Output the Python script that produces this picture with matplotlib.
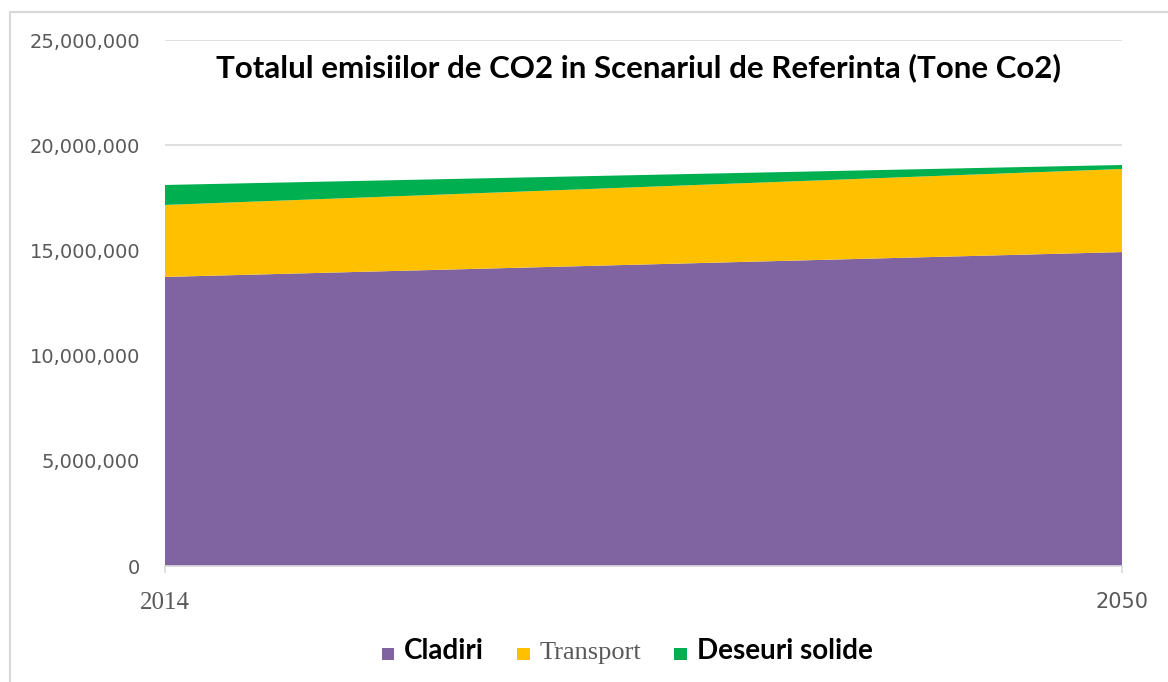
import numpy as np
import matplotlib.pyplot as plt
from matplotlib.patches import Rectangle, Patch
from matplotlib.ticker import FuncFormatter

years = [2014, 2050]
cladiri = [13740000, 14920000]
transport = [3420000, 3950000]
deseuri = [950000, 190000]
labels = ["Cladiri", "Transport", "Deseuri solide"]
colors = ["#8064A2", "#FFC000", "#00B050"]

fig = plt.figure(figsize=(11.68, 6.82), dpi=100)
ax = fig.add_axes([165 / 1168, 1 - 566 / 682, (1122 - 165) / 1168, (566 - 40) / 682])

ax.stackplot(years, cladiri, transport, deseuri, colors=colors, linewidth=0)

ax.set_xlim(2014, 2050)
ax.set_ylim(0, 25000000)
ax.set_yticks(np.arange(0, 25000001, 5000000))
ax.yaxis.set_major_formatter(FuncFormatter(lambda v, p: f"{int(v):,}"))
ax.grid(axis="y", color="#D9D9D9", linewidth=1.2)
ax.set_axisbelow(True)
for s in ["top", "right", "left"]:
    ax.spines[s].set_visible(False)
ax.spines["bottom"].set_color("#D9D9D9")
ax.spines["bottom"].set_linewidth(1.2)
ax.tick_params(axis="y", length=0, pad=18, labelsize=14, labelcolor="#595959")
ax.tick_params(axis="x", length=5, color="#D9D9D9", width=1.2, pad=14)
ax.set_xticks(years)
ax.set_xticklabels(["2014", "2050"])
xl = ax.get_xticklabels()
xl[0].set_fontfamily("Liberation Serif")
xl[0].set_fontsize(18)
xl[0].set_color("#595959")
xl[1].set_fontfamily("DejaVu Sans")
xl[1].set_fontsize(15)
xl[1].set_color("#595959")
for t in ax.get_yticklabels():
    t.set_fontfamily("DejaVu Sans")

fig.text(638 / 1168, 1 - 68 / 682, "Totalul emisiilor de CO2 in Scenariul de Referinta (Tone Co2)",
         ha="center", va="center", fontsize=22.5, fontweight="bold", family="Lato", color="black")

handles = [Patch(facecolor=c, edgecolor="none") for c in colors]
leg = fig.legend(handles, labels, loc="center", bbox_to_anchor=(627 / 1168, 1 - 651 / 682),
                 ncol=3, frameon=False, handlelength=0.9, handleheight=0.9,
                 handletextpad=0.7, columnspacing=2.4)
tx = leg.get_texts()
tx[0].set_fontsize(20); tx[0].set_fontweight("bold"); tx[0].set_family("Lato")
tx[1].set_fontsize(19); tx[1].set_family("Liberation Serif"); tx[1].set_color("#595959")
tx[2].set_fontsize(20); tx[2].set_fontweight("bold"); tx[2].set_family("Lato")

fig.patches.append(Rectangle((10 / 1168, -0.1), 1.2, 1 - 12 / 682 + 0.1, transform=fig.transFigure,
                             fill=False, edgecolor="#D9D9D9", linewidth=1.5))

fig.savefig("out.png", dpi=100)
